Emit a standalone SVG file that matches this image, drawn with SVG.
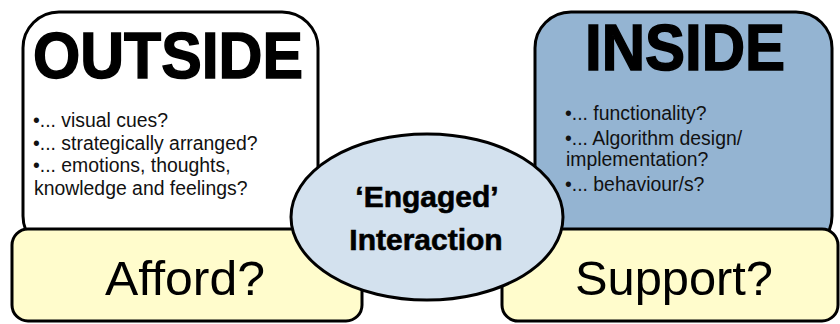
<svg xmlns="http://www.w3.org/2000/svg" width="840" height="324" viewBox="0 0 840 324">
<style>
.box{stroke:#000;stroke-width:3}
.title{font-family:"Liberation Sans",Arial,sans-serif;font-weight:bold;font-size:64px;fill:#000;stroke:#000;stroke-width:1.5}
.bul{font-family:"Liberation Sans",Arial,sans-serif;font-size:19.4px;fill:#111}
.big{font-family:"Liberation Sans",Arial,sans-serif;font-size:48px;fill:#000;text-anchor:middle}
.eng{font-family:"Liberation Sans",Arial,sans-serif;font-weight:bold;font-size:30px;fill:#000;text-anchor:middle;stroke:#000;stroke-width:0.6}
</style>
<rect width="840" height="324" fill="#fff"/>
<g id="outside">
<rect class="box" x="23" y="12" width="295" height="240" rx="36" fill="#fff"/>
<text class="title" x="33" y="78" textLength="270" lengthAdjust="spacingAndGlyphs">OUTSIDE</text>
<text class="bul" x="33" y="127">•... visual cues?</text>
<text class="bul" x="33" y="150">•... strategically arranged?</text>
<text class="bul" x="33" y="172">•... emotions, thoughts,</text>
<text class="bul" x="34" y="195">knowledge and feelings?</text>
</g>
<g id="inside">
<rect class="box" x="535" y="12" width="297" height="240" rx="36" fill="#94b4d2"/>
<text class="title" x="585" y="70" textLength="200" lengthAdjust="spacingAndGlyphs">INSIDE</text>
<text class="bul" x="565" y="120">•... functionality?</text>
<text class="bul" x="565" y="145">•... Algorithm design/</text>
<text class="bul" x="566" y="166">implementation?</text>
<text class="bul" x="565" y="191">•... behaviour/s?</text>
</g>
<g id="afford">
<rect class="box" x="12" y="229" width="350" height="92" rx="16" fill="#fffccc"/>
<text class="big" x="185" y="295" textLength="160" lengthAdjust="spacingAndGlyphs">Afford?</text>
</g>
<g id="support">
<rect class="box" x="502" y="229" width="336" height="92" rx="16" fill="#fffccc"/>
<text class="big" x="674" y="295" textLength="198" lengthAdjust="spacingAndGlyphs">Support?</text>
</g>
<g id="engaged">
<ellipse class="box" cx="427" cy="217" rx="136" ry="83" fill="#d3e1ee"/>
<text class="eng" x="427" y="207">‘Engaged’</text>
<text class="eng" x="426" y="250">Interaction</text>
</g>
<g id="connectors"></g>
</svg>
